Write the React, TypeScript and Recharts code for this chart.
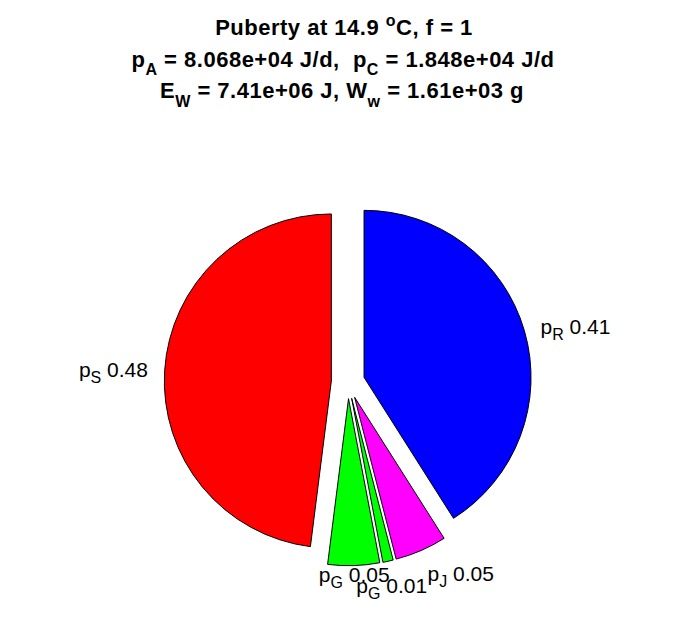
import { PieChart, Pie, Cell } from "recharts";

// flux fractions at puberty, clockwise from 12 o'clock
const subs = ["R", "J", "G", "G", "S"];
const shares = [0.41, 0.05, 0.01, 0.05, 0.48];
const colors = ["#0000ff", "#ff00ff", "#00ff00", "#00ff00", "#ff0000"];

const W = 696;
const H = 618;
const CX = 348;
const CY = 382;
const R = 167;
const EXPLODE = 0.1 * R;
const RADIAN = Math.PI / 180;
const FONT = "'Liberation Sans', Arial, Helvetica, sans-serif";
const LABEL_FS = 21;

const data = shares.map((v, i) => ({ name: "p" + subs[i], value: v }));
const total = shares.reduce((a, b) => a + b, 0);

function midAngleOf(i: number) {
    const before = shares.slice(0, i).reduce((a, b) => a + b, 0);
    return 90 - (360 * (before + shares[i] / 2)) / total;
}

// label placement: 1.1 R out from the exploded centre, lower labels hang
// below the anchor, and a label that runs into the previous one moves up
type Box = { x: number; y: number; anchor: "start" | "middle" | "end"; l: number; r: number; t: number };
const labelBoxes: Box[] = [];
shares.forEach((_, i) => {
    const a = midAngleOf(i) * RADIAN;
    const dx = Math.cos(a);
    const dy = -Math.sin(a);
    const x = CX + (EXPLODE + 1.1 * R) * dx;
    const y = CY + (EXPLODE + 1.1 * R) * dy;
    const anchor = Math.abs(dx) < 0.3 ? "middle" : dx > 0 ? "start" : "end";
    const w = LABEL_FS * 3.3;
    const h = 15;
    const l = anchor === "start" ? x : anchor === "end" ? x - w : x - w / 2;
    let t = dy > 0.5 ? y : y - h / 2;
    const prev = labelBoxes[i - 1];
    if (prev && l < prev.l + w && prev.l < l + w && Math.abs(prev.t - t) < h) t -= h;
    labelBoxes.push({ x, y, anchor, l, r: l + w, t });
});

function SliceLabel({ index }: { index: number }) {
    const b = labelBoxes[index];
    return (
        <text x={b.x} y={b.t + 15} textAnchor={b.anchor} fontFamily={FONT} fontSize={LABEL_FS} fill="#000">
            <tspan>p</tspan>
            <tspan dy={6} fontSize={16}>{subs[index]}</tspan>
            <tspan dy={-6}>{"\u00a0" + shares[index].toFixed(2)}</tspan>
        </text>
    );
}

function Title() {
    return (
        <svg width={W} height={130} style={{ position: "absolute", left: 0, top: 0 }}>
            <g fontFamily={FONT} fontWeight="bold" fontSize={22} letterSpacing={0.5} textAnchor="middle" fill="#000">
                <text x={344} y={35}>
                    <tspan>Puberty at 14.9 </tspan>
                    <tspan dy={-9} fontSize={16}>o</tspan>
                    <tspan dy={9}>C, f = 1</tspan>
                </text>
                <text x={343} y={67}>
                    <tspan>p</tspan>
                    <tspan dy={8} fontSize={16}>A</tspan>
                    <tspan dy={-8}>{" = 8.068e+04 J/d, \u00a0p"}</tspan>
                    <tspan dy={8} fontSize={16}>C</tspan>
                    <tspan dy={-8}> = 1.848e+04 J/d</tspan>
                </text>
                <text x={342} y={98}>
                    <tspan>E</tspan>
                    <tspan dy={9} fontSize={16}>W</tspan>
                    <tspan dy={-9}>{" = 7.41e+06 J, W"}</tspan>
                    <tspan dy={9} fontSize={16}>w</tspan>
                    <tspan dy={-9}> = 1.61e+03 g</tspan>
                </text>
            </g>
        </svg>
    );
}

export default function App() {
    return (
        <div style={{ position: "absolute", left: 0, top: 0, width: W, height: H, background: "#fff" }}>
            <PieChart width={W} height={H} margin={{ top: 0, right: 0, bottom: 0, left: 0 }}>
                {shares.map((_, i) => {
                    const mid = midAngleOf(i) * RADIAN;
                    return (
                        <Pie
                            key={i}
                            data={data}
                            dataKey="value"
                            cx={CX + EXPLODE * Math.cos(mid)}
                            cy={CY - EXPLODE * Math.sin(mid)}
                            innerRadius={0}
                            outerRadius={R}
                            startAngle={90}
                            endAngle={-270}
                            isAnimationActive={false}
                            labelLine={false}
                            label={(p: any) => (p.index === i ? <SliceLabel index={p.index} /> : null)}
                        >
                            {shares.map((__, j) => (
                                <Cell
                                    key={j}
                                    fill={j === i ? colors[j] : "none"}
                                    stroke={j === i ? "#000" : "none"}
                                    strokeWidth={1}
                                />
                            ))}
                        </Pie>
                    );
                })}
            </PieChart>
            <Title />
        </div>
    );
}
